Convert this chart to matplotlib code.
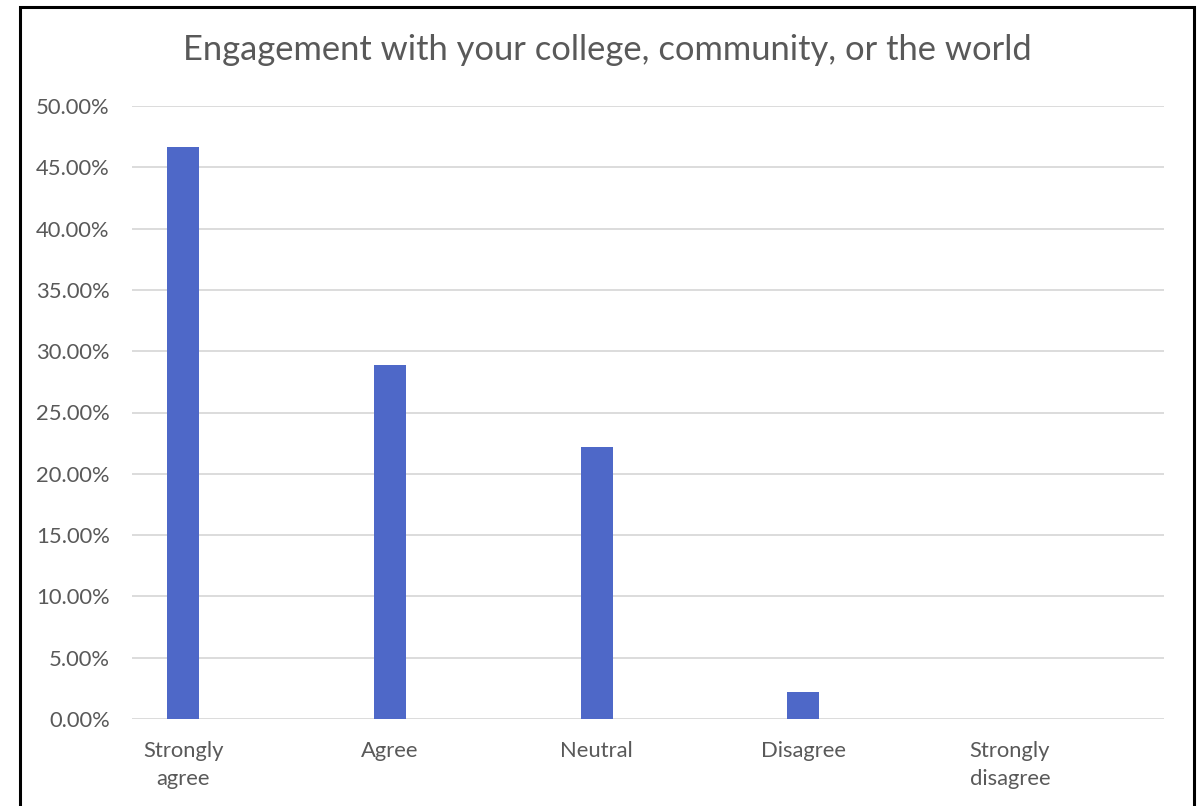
import matplotlib.pyplot as plt
from matplotlib.patches import Rectangle
from matplotlib.ticker import PercentFormatter

# Survey answers (share of respondents, in %)
categories = ["Strongly\nagree", "Agree", "Neutral", "Disagree", "Strongly\ndisagree"]
shares = [46.67, 28.89, 22.22, 2.22, 0.0]
y_ticks = [0, 5, 10, 15, 20, 25, 30, 35, 40, 45, 50]

W, H = 1201, 806
plt.rcParams['font.family'] = ['Lato', 'DejaVu Sans']
text_grey = '#595959'

fig = plt.figure(figsize=(W / 100, H / 100), dpi=100)
ax = fig.add_axes([132 / W, (H - 719) / H, (1164 - 132) / W, (719 - 106) / H])

x = list(range(len(categories)))
ax.bar(x, shares, width=0.155, color='#4E68C8', zorder=3)

ax.set_ylim(0, 50)
ax.set_yticks(y_ticks)
ax.yaxis.set_major_formatter(PercentFormatter(decimals=2))
ax.set_xlim(-0.247, 4.745)
ax.set_xticks(x)
ax.set_xticklabels(categories, linespacing=1.5)

ax.grid(axis='y', color='#D9D9D9', linewidth=1.3, zorder=0)
for s in ax.spines.values():
    s.set_visible(False)
ax.tick_params(axis='both', length=0, labelsize=15.8, colors=text_grey)
ax.tick_params(axis='y', pad=16)
ax.tick_params(axis='x', pad=16)

fig.text(607 / W, 1 - 50 / H, "Engagement with your college, community, or the world",
         ha='center', va='center', fontsize=24.8, color=text_grey)

# chart frame
fig.patches.append(Rectangle((20 / W, -0.05), (1194 - 20) / W, 1.05 - 7 / H,
                             transform=fig.transFigure, fill=False,
                             edgecolor='black', linewidth=2.2))

fig.savefig('out.png', dpi=100, facecolor='white')
